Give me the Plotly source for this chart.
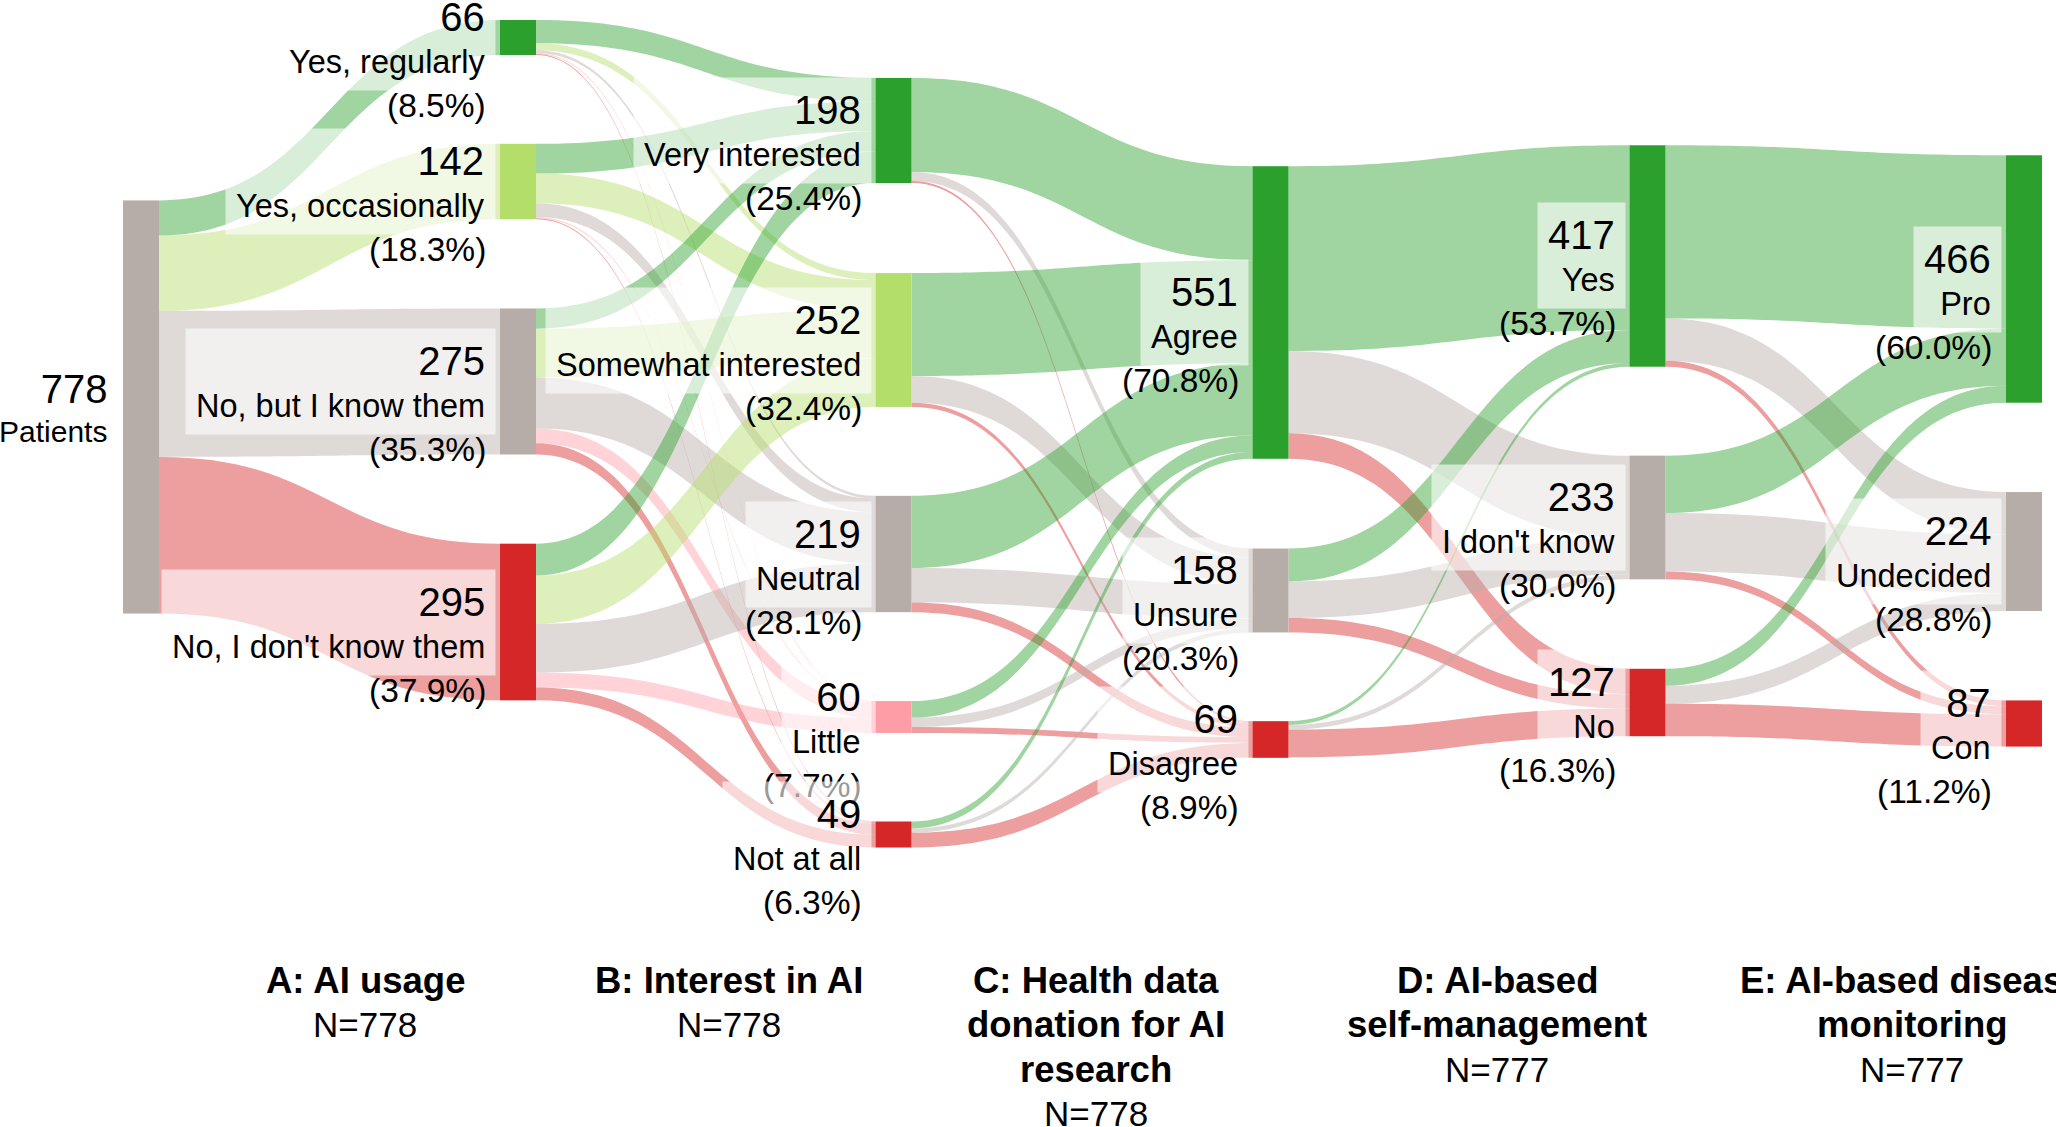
import plotly.graph_objects as go

# ---------------- data ----------------
root_label = "Patients"
A_labels = ["Yes, regularly", "Yes, occasionally", "No, but I know them", "No, I don't know them"]
B_labels = ["Very interested", "Somewhat interested", "Neutral", "Little", "Not at all"]
C_labels = ["Agree", "Unsure", "Disagree"]
D_labels = ["Yes", "I don't know", "No"]
E_labels = ["Pro", "Undecided", "Con"]

stage_titles = [["A: AI usage"], ["B: Interest in AI"], ["C: Health data", "donation for AI", "research"],
                ["D: AI-based", "self-management"], ["E: AI-based disease", "monitoring"]]

root_to_A = [[66, 142, 275, 295]]
A_to_B = [[44, 13, 5, 2, 2],
          [56, 56, 26, 2, 2],
          [38, 92, 96, 28, 21],
          [60, 91, 92, 28, 24]]
B_to_C = [[177, 17, 4],
          [194, 50, 8],
          [136, 65, 18],
          [31, 18, 11],
          [13, 8, 28]]
C_to_D = [[348, 155, 48],
          [62, 69, 27],
          [7, 9, 52]]
D_to_E = [[326, 80, 11],
          [108, 110, 15],
          [32, 34, 61]]

# ---------------- styling / positions ----------------
W, H = 2056, 1127
GREEN, LGREEN, GREY, PINK, RED = "#2ca02c", "#b3de69", "#b7ada8", "#ff9da6", "#d62728"
columns = [[root_label], A_labels, B_labels, C_labels, D_labels, E_labels]
flows = [root_to_A, A_to_B, B_to_C, C_to_D, D_to_E]
col_colors = [[GREY], [GREEN, LGREEN, GREY, RED], [GREEN, LGREEN, GREY, PINK, RED],
              [GREEN, GREY, RED], [GREEN, GREY, RED], [GREEN, GREY, RED]]
col_x = [141, 518, 893.5, 1270.5, 1647.5, 2024]          # node centre x (px)
node_y = [[407], [37.5, 181.5, 381.5, 622], [130.5, 340, 554, 717, 834.5],
          [312.5, 590.5, 739.5], [256, 517.5, 702.5], [279, 551.5, 723.5]]  # node centre y (px)
title_x = [365, 729, 1096, 1497, 1912]
TITLE_Y0, TITLE_DY = 980, 44.5
THICK = 36
KY = 0.531  # px per respondent
FONT = "Liberation Sans, Arial, sans-serif"


def rgba(hexc, a):
    h = hexc.lstrip("#")
    return f"rgba({int(h[0:2],16)},{int(h[2:4],16)},{int(h[4:6],16)},{a})"


# ---------------- build nodes / links ----------------
offsets = []
n = 0
for col in columns:
    offsets.append(n)
    n += len(col)

inflow = [0] * n
outflow = [0] * n
src, tgt, val, lcol = [], [], [], []
for k, mat in enumerate(flows):
    for i, row in enumerate(mat):
        for j, v in enumerate(row):
            s = offsets[k] + i
            t = offsets[k + 1] + j
            src.append(s)
            tgt.append(t)
            val.append(v)
            lcol.append(rgba(col_colors[k + 1][j], 0.45))
            outflow[s] += v
            inflow[t] += v
node_val = [max(a, b) for a, b in zip(inflow, outflow)]

nx, ny, ncol = [], [], []
for k, col in enumerate(columns):
    for i in range(len(col)):
        nx.append(col_x[k] / W)
        ny.append(node_y[k][i] / H)
        ncol.append(col_colors[k][i])

col_tot = [sum(node_val[offsets[k]:offsets[k] + len(c)]) for k, c in enumerate(columns)]
max_n = max(len(c) for c in columns)
big = max(col_tot)
pad = (H - KY * big) / (max_n - 1)

fig = go.Figure(go.Sankey(
    arrangement="fixed",
    domain=dict(x=[0, 1], y=[0, 1]),
    node=dict(label=[""] * n, x=nx, y=ny, color=ncol, thickness=THICK, pad=pad,
              line=dict(width=0), hoverinfo="none"),
    link=dict(source=src, target=tgt, value=val, color=lcol, hoverinfo="none"),
    textfont=dict(size=1, color="rgba(0,0,0,0)"),
))

# ---------------- labels ----------------
ann = []
for k, col in enumerate(columns):
    left = col_x[k] - THICK / 2
    for i, lab in enumerate(col):
        idx = offsets[k] + i
        cy = node_y[k][i]
        v = node_val[idx]
        if k == 0:
            ann.append(dict(x=(left - 14) / W, y=1 - cy / H, xref="paper", yref="paper",
                            xanchor="right", yanchor="middle", align="right", showarrow=False,
                            text=f"<span style='font-size:40px'>{v}</span><br>{lab}",
                            font=dict(family=FONT, size=30, color="black")))
            continue
        ann.append(dict(x=(left - 4) / W, y=1 - cy / H, xref="paper", yref="paper",
                        xanchor="right", yanchor="middle", align="right", showarrow=False,
                        text=f"<span style='font-size:40px'>{v}</span><br>{lab}",
                        bgcolor="rgba(255,255,255,0.6)", borderpad=10,
                        font=dict(family=FONT, size=32.5, color="black")))
        ann.append(dict(x=(left - 12) / W, y=1 - (cy + 68) / H, xref="paper", yref="paper",
                        xanchor="right", yanchor="middle", align="right", showarrow=False,
                        text=f"({v / col_tot[k] * 100:.1f}%)",
                        font=dict(family=FONT, size=33.5, color="black")))

for k, lines in enumerate(stage_titles):
    all_lines = [(f"<b>{t}</b>", 36.5) for t in lines] + [(f"N={col_tot[k + 1]}", 35)]
    for m, (txt, fs) in enumerate(all_lines):
        ann.append(dict(x=title_x[k] / W, y=1 - (TITLE_Y0 + m * TITLE_DY) / H,
                        xref="paper", yref="paper", xanchor="center", yanchor="middle",
                        align="center", showarrow=False, text=txt,
                        font=dict(family=FONT, size=fs, color="black")))

fig.update_layout(width=W, height=H, margin=dict(l=0, r=0, t=0, b=0),
                  paper_bgcolor="white", plot_bgcolor="white", annotations=ann,
                  font=dict(family=FONT))

fig.write_html("out.html", config={"displayModeBar": False},
               post_script="document.body.style.margin='0';")
